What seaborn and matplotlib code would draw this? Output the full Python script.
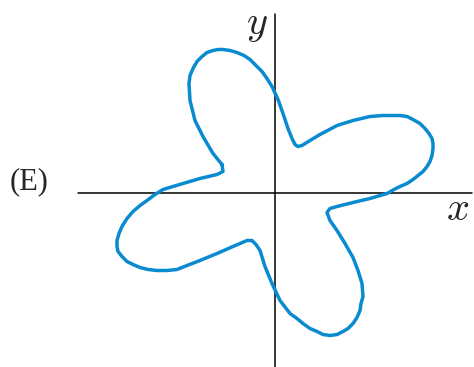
import matplotlib
matplotlib.use('Agg')
import matplotlib.pyplot as plt
import seaborn as sns
import pandas as pd

# curve (pixel offsets from the origin, y up)
curve_x = [-53, -62, -72, -80, -85, -86, -85, -82, -78, -73, -68, -62, -57, -52, -45, -38, -31, -25, -19, -13,
           -8, -3, 3, 8, 13, 17, 20, 23, 27, 35, 45, 62, 78, 95, 108, 125, 132, 138, 145, 150,
           154, 157, 158, 158, 157, 155, 152, 148, 143, 138, 132, 125, 119, 112, 95, 78, 62, 55, 52, 55,
           62, 70, 78, 83, 87, 88, 86, 85, 82, 78, 73, 68, 62, 55, 48, 42, 35, 28, 22, 15,
           5, -3, -10, -15, -19, -23, -28, -42, -58, -75, -88, -98, -108, -118, -127, -135, -142, -148, -153, -157,
           -158, -158, -156, -153, -148, -142, -135, -128, -120, -112, -92, -75, -58, -52, -53]
curve_y = [28, 39, 56, 72, 92, 109, 117, 124, 131, 136, 140, 142, 143, 143, 142, 140, 137, 133, 127, 121,
           114, 106, 93, 79, 64, 54, 48, 46, 47, 52, 58, 67, 72, 76, 77, 77, 76, 73, 69, 64,
           59, 54, 49, 44, 37, 31, 26, 21, 17, 13, 9, 6, 3, -1, -6, -10, -14, -16, -20, -28,
           -38, -51, -65, -78, -91, -104, -111, -118, -125, -131, -136, -139, -142, -143, -142, -139, -136, -131, -126, -121,
           -108, -91, -74, -58, -52, -48, -48, -54, -61, -68, -73, -77, -78, -78, -77, -75, -72, -69, -64, -59,
           -54, -48, -41, -34, -26, -19, -13, -8, -2, 3, 9, 14, 18, 21, 28]

panel_label = '(E)'
x_label = '$x$'
y_label = '$y$'

sns.set_style('white')
plt.rcParams['mathtext.fontset'] = 'cm'
plt.rcParams['font.family'] = ['Liberation Serif', 'DejaVu Serif']

df = pd.DataFrame({'x': curve_x, 'y': curve_y})

fig = plt.figure(figsize=(4.74, 3.67), dpi=100)
ax = fig.add_axes([0, 0, 1, 1])

# axes lines
ax.plot([-197, 197], [0, 0], color='black', lw=1.1, zorder=1)
ax.plot([0, 0], [-175, 179], color='black', lw=1.1, zorder=1)

sns.lineplot(data=df, x='x', y='y', sort=False, estimator=None, color='#0a8bd0',
             lw=2.5, ax=ax, zorder=2, solid_joinstyle='round', solid_capstyle='round')

ax.text(-265, 10.5, panel_label, fontsize=22, ha='left', va='center')
ax.text(-18, 167, y_label, fontsize=29, ha='center', va='center')
ax.text(183, -18, x_label, fontsize=29, ha='center', va='center')

ax.set_xlim(-275, 199)
ax.set_ylim(-174.5, 192.5)
ax.set_axis_off()

fig.savefig('out.png', dpi=100)
